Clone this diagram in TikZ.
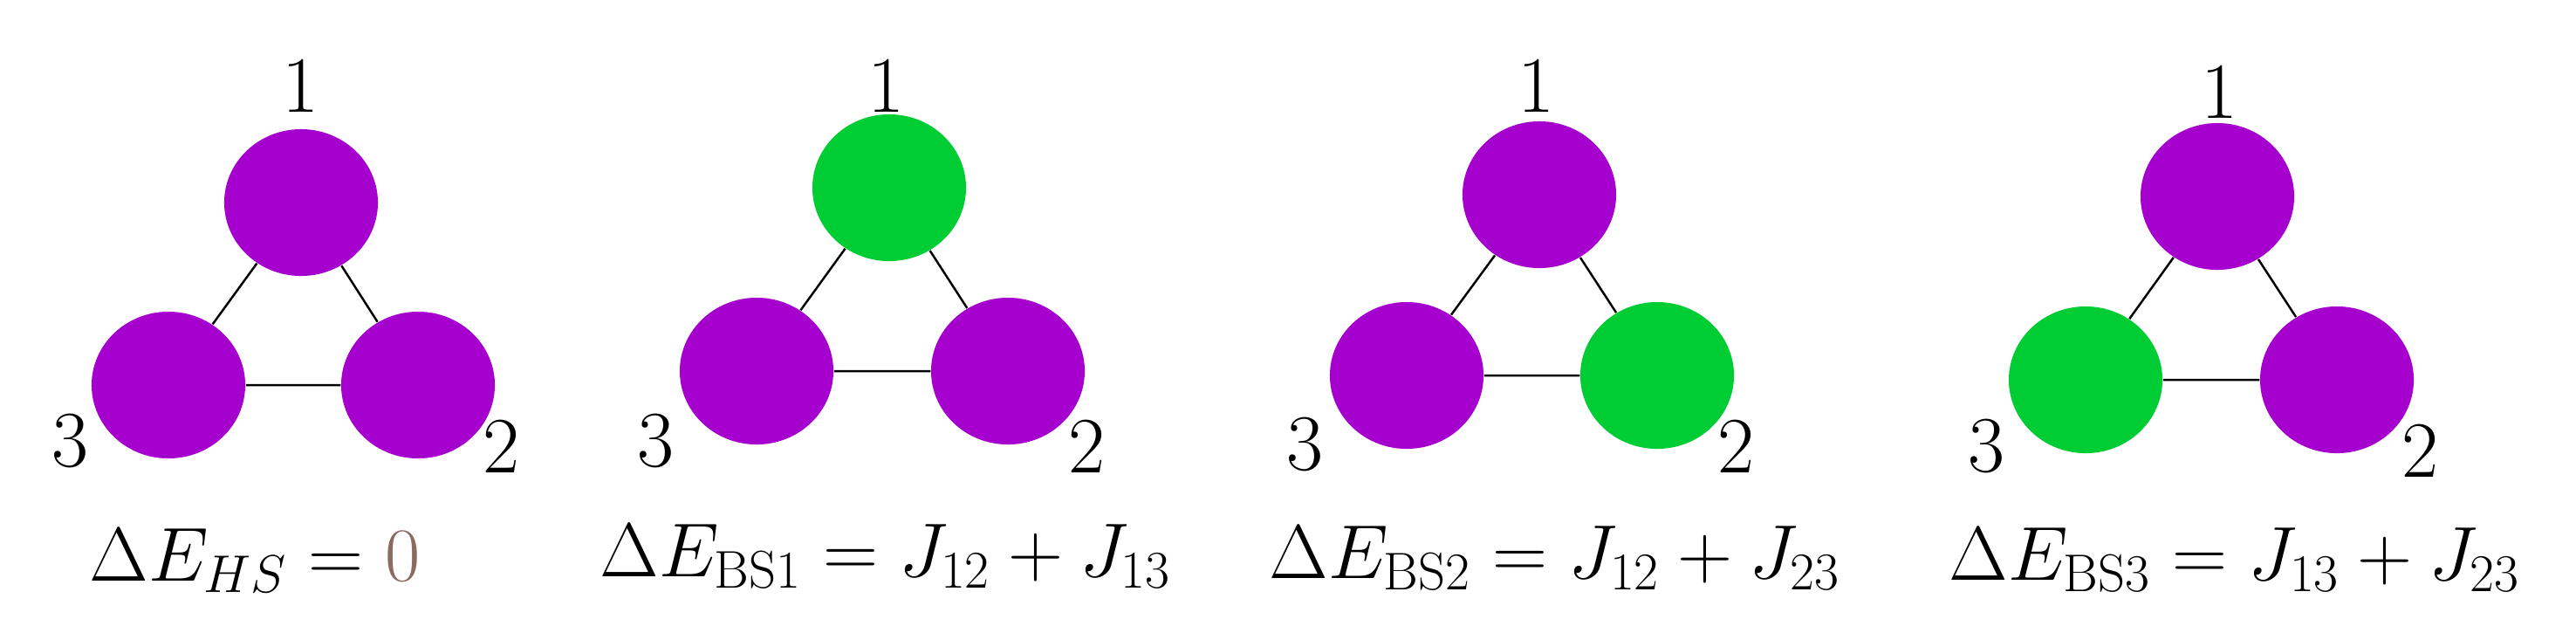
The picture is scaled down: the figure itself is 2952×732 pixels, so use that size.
\documentclass[tikz,border=0pt]{standalone}
\usetikzlibrary{shapes.geometric}
\definecolor{spinP}{HTML}{A600CE}
\definecolor{spinG}{HTML}{00CC33}
\definecolor{zbrown}{HTML}{8B6A60}
\begin{document}
\begin{tikzpicture}[x=0.01cm,y=-0.01cm,
  site/.style={ellipse,minimum width=1.76cm,minimum height=1.68cm,inner sep=0pt,fill=#1},
  lab/.style={font=\fontsize{26}{30}\selectfont,inner sep=0pt},
  eq/.style={font=\fontsize{25}{30}\selectfont,inner sep=0pt,anchor=base},
  bond/.style={line width=0.7pt}]
\useasboundingbox (0,0) rectangle (2952,732);
% panel 1
\node[site=spinP] (a1) at (345,232) {};
\node[site=spinP] (a3) at (193,441) {};
\node[site=spinP] (a2) at (479,441) {};
\draw[bond] (a1)--(a2) (a1)--(a3) (a2)--(a3);
\node[lab] (la1) at (344,98) {1};
\node[lab] (la3) at (80,505) {3};
\node[lab] (la2) at (574,511) {2};
\node[eq] (ea) at (292,665) {$\Delta E_{HS}=\textcolor{zbrown}{0}$};
% panel 2
\node[site=spinG] (b1) at (1019,215) {};
\node[site=spinP] (b3) at (867,425) {};
\node[site=spinP] (b2) at (1155,425) {};
\draw[bond] (b1)--(b2) (b1)--(b3) (b2)--(b3);
\node[lab] (lb1) at (1015,98) {1};
\node[lab] (lb3) at (751,505) {3};
\node[lab] (lb2) at (1245,511) {2};
\node[eq] (eb) at (1015,660) {$\Delta E_{\mathrm{BS1}}=J_{12}+J_{13}$};
% panel 3
\node[site=spinP] (c1) at (1764,223) {};
\node[site=spinP] (c3) at (1612,430) {};
\node[site=spinG] (c2) at (1899,430) {};
\draw[bond] (c1)--(c2) (c1)--(c3) (c2)--(c3);
\node[lab] (lc1) at (1760,98) {1};
\node[lab] (lc3) at (1495,509) {3};
\node[lab] (lc2) at (1989,511) {2};
\node[eq] (ec) at (1782,662) {$\Delta E_{\mathrm{BS2}}=J_{12}+J_{23}$};
% panel 4
\node[site=spinP] (d1) at (2541,225) {};
\node[site=spinG] (d3) at (2390,435) {};
\node[site=spinP] (d2) at (2678,435) {};
\draw[bond] (d1)--(d2) (d1)--(d3) (d2)--(d3);
\node[lab] (ld1) at (2543,105) {1};
\node[lab] (ld3) at (2276,511) {3};
\node[lab] (ld2) at (2773,516) {2};
\node[eq] (ed) at (2561,664) {$\Delta E_{\mathrm{BS3}}=J_{13}+J_{23}$};
\end{tikzpicture}
\end{document}
